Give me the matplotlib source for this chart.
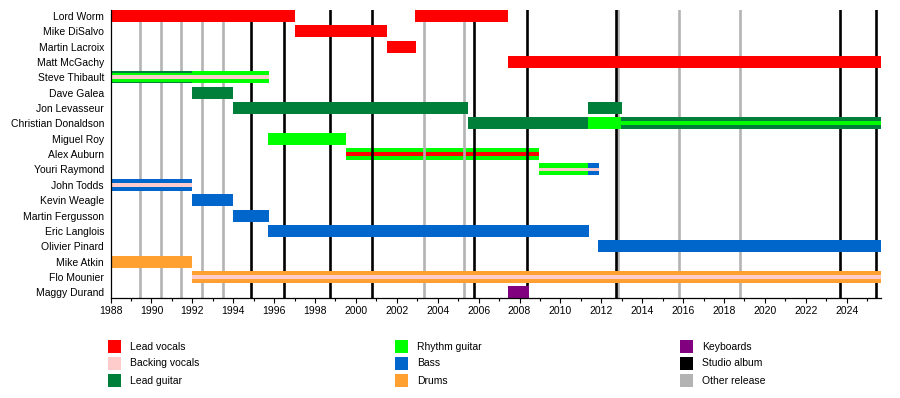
import matplotlib
matplotlib.use("Agg")
import matplotlib.pyplot as plt
from matplotlib.patches import Rectangle
from matplotlib.ticker import MultipleLocator

plt.rcParams['font.family'] = ['Liberation Sans', 'DejaVu Sans']

members = ["Lord Worm", "Mike DiSalvo", "Martin Lacroix", "Matt McGachy",
           "Steve Thibault", "Dave Galea", "Jon Levasseur", "Christian Donaldson",
           "Miguel Roy", "Alex Auburn", "Youri Raymond", "John Todds",
           "Kevin Weagle", "Martin Fergusson", "Eric Langlois", "Olivier Pinard",
           "Mike Atkin", "Flo Mounier", "Maggy Durand"]

END = 2025.66

bar_member = ["Lord Worm", "Lord Worm", "Mike DiSalvo", "Martin Lacroix", "Matt McGachy",
              "Steve Thibault", "Steve Thibault", "Dave Galea", "Jon Levasseur", "Jon Levasseur",
              "Christian Donaldson", "Christian Donaldson", "Christian Donaldson",
              "Miguel Roy", "Alex Auburn", "Youri Raymond", "Youri Raymond", "John Todds",
              "Kevin Weagle", "Martin Fergusson", "Eric Langlois", "Olivier Pinard",
              "Mike Atkin", "Flo Mounier", "Maggy Durand"]
bar_start = [1988.0, 2002.9, 1997.0, 2001.5, 2007.45,
             1988.0, 1992.0, 1992.0, 1994.0, 2011.35,
             2005.5, 2011.35, 2012.97,
             1995.72, 1999.5, 2008.95, 2011.35, 1988.0,
             1992.0, 1994.0, 1995.72, 2011.85,
             1988.0, 1992.0, 2007.45]
bar_end = [1997.0, 2007.45, 2001.5, 2002.95, END,
           1992.0, 1995.74, 1994.0, 2005.5, 2013.0,
           2011.35, 2012.97, END,
           1999.5, 2008.95, 2011.35, 2011.9, 1992.0,
           1994.0, 1995.74, 2011.4, END,
           1992.0, END, 2008.45]
bar_roles = [("Lead vocals",), ("Lead vocals",), ("Lead vocals",), ("Lead vocals",), ("Lead vocals",),
             ("Lead guitar", "Rhythm guitar", "Backing vocals"), ("Rhythm guitar", "Backing vocals"),
             ("Lead guitar",), ("Lead guitar",), ("Lead guitar",),
             ("Lead guitar",), ("Rhythm guitar",), ("Lead guitar", "Rhythm guitar"),
             ("Rhythm guitar",), ("Rhythm guitar", "Lead vocals"),
             ("Rhythm guitar", "Backing vocals"), ("Bass", "Backing vocals"), ("Bass", "Backing vocals"),
             ("Bass",), ("Bass",), ("Bass",), ("Bass",),
             ("Drums",), ("Drums", "Backing vocals"), ("Keyboards",)]

studio_albums = [1994.88, 1996.5, 1998.71, 2000.79, 2005.79, 2008.38, 2012.7, 2023.68, 2025.44]
other_releases = [1989.46, 1990.48, 1991.46, 1992.49, 1993.5, 2003.34, 2005.3, 2012.81, 2015.8, 2018.79]

role_colors = {
    "Lead vocals": "#FF0000",
    "Backing vocals": "#FFCCCC",
    "Lead guitar": "#007F3A",
    "Rhythm guitar": "#00FF00",
    "Bass": "#0066CC",
    "Drums": "#FFA030",
    "Keyboards": "#800080",
    "Studio album": "#000000",
    "Other release": "#B3B3B3",
}
legend_columns = [["Lead vocals", "Backing vocals", "Lead guitar"],
                  ["Rhythm guitar", "Bass", "Drums"],
                  ["Keyboards", "Studio album", "Other release"]]

W, H = 900, 398
fig = plt.figure(figsize=(W / 100, H / 100), dpi=100)
ax_left, ax_right, ax_top, ax_bottom = 110.5, 880.7, 9.5, 297.5
ax = fig.add_axes([ax_left / W, 1 - ax_bottom / H, (ax_right - ax_left) / W, (ax_bottom - ax_top) / H])

row_of = {m: i for i, m in enumerate(members)}
layer_h = {1: [0.78], 2: [0.78, 0.25], 3: [0.78, 0.55, 0.25]}
for m, s, e, roles in zip(bar_member, bar_start, bar_end, bar_roles):
    y = row_of[m]
    hs = layer_h[len(roles)]
    z = 1 if m == "Alex Auburn" else 3
    for k, r in enumerate(roles):
        ax.barh(y, e - s, left=s, height=hs[k], color=role_colors[r], linewidth=0, zorder=z + k * 0.1)

for x in other_releases:
    ax.axvline(x, color=role_colors["Other release"], lw=1.9, zorder=2)
for x in studio_albums:
    ax.axvline(x, color=role_colors["Studio album"], lw=1.9, zorder=2.1)

ax.set_xlim(1988, END)
ax.set_ylim(18.34, -0.42)
ax.set_yticks(range(len(members)))
ax.set_yticklabels(members, fontsize=7.5)
ax.tick_params(axis='y', length=0, pad=4.6)
ax.xaxis.set_major_locator(MultipleLocator(2))
ax.xaxis.set_minor_locator(MultipleLocator(1))
ax.tick_params(axis='x', which='major', length=3.6, width=0.8, pad=2.5, labelsize=7.5)
ax.tick_params(axis='x', which='minor', length=2.2, width=0.8)
for sp in ["top", "right"]:
    ax.spines[sp].set_visible(False)
for sp in ["left", "bottom"]:
    ax.spines[sp].set_linewidth(0.9)
    ax.spines[sp].set_zorder(5)

col_x = [108, 395, 680]
row_y = [346.5, 363.5, 380.5]
sq = 13
for cx, col in zip(col_x, legend_columns):
    for ry, name in zip(row_y, col):
        fig.patches.append(Rectangle(((cx) / W, 1 - (ry + sq / 2) / H), sq / W, sq / H,
                                     transform=fig.transFigure, color=role_colors[name], lw=0))
        fig.text((cx + 22) / W, 1 - ry / H, name, fontsize=7.5, va='center', ha='left')

fig.savefig("out.png", dpi=100)
